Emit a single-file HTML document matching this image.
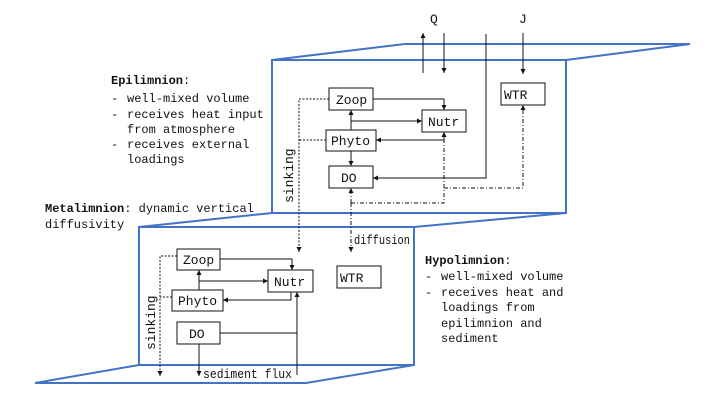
<!DOCTYPE html>
<html><head><meta charset="utf-8"><style>
html,body{margin:0;padding:0;background:#fff;}
svg{display:block;}
text{font-family:"Liberation Mono",monospace;font-size:12px;fill:#111;}
.b{font-weight:bold;}
.n{font-size:13px;}
</style></head><body>
<svg width="720" height="405" viewBox="0 0 720 405" xmlns="http://www.w3.org/2000/svg">
<defs>
<marker id="a" viewBox="0 0 6 6" refX="6" refY="3" markerWidth="5" markerHeight="5" orient="auto"><path d="M0,0L6,3L0,6z" fill="#111"/></marker>
</defs>
<g fill="none" stroke="#4472c4" stroke-width="2">
<rect x="272" y="60" width="294" height="153"/>
<path d="M272,60L405,44L690,44M566,60L690,44"/>
<path d="M139,227L272,213M414,227L566,213"/>
<rect x="139" y="227" width="275" height="138"/>
<path d="M139,365L35,383L306,383L414,365"/>
</g>
<g fill="#fff" stroke="#111" stroke-width="1">
<rect x="329" y="88" width="44" height="22"/>
<rect x="422" y="110" width="44" height="22"/>
<rect x="326" y="130" width="50" height="21"/>
<rect x="329" y="166" width="44" height="22"/>
<rect x="501" y="83" width="44" height="22"/>
<rect x="177" y="249" width="43" height="21"/>
<rect x="268" y="270" width="45" height="22"/>
<rect x="172" y="290" width="51" height="21"/>
<rect x="177" y="322" width="43" height="22"/>
<rect x="337" y="266" width="44" height="22"/>
</g>
<g fill="none" stroke="#111" stroke-width="1" marker-end="url(#a)">
<path d="M423,73V33"/>
<path d="M444,33V73"/>
<path d="M486,34V178H373"/>
<path d="M523,33V74"/>
<path d="M373,99H444V110"/>
<path d="M351,130V110"/>
<path d="M351,121H422"/>
<path d="M444,132V140H376"/>
<path d="M351,151V166"/>
<path d="M220,259H292V270"/>
<path d="M199,290V270"/>
<path d="M199,281H268"/>
<path d="M291,292V300H223"/>
<path d="M297,375V292"/>
<path d="M199,344V376"/>
</g>
<path d="M220,333H297" stroke="#111" fill="none"/>
<g fill="none" stroke="#111" stroke-width="1" stroke-dasharray="4,2,1,2">
<path d="M351,203V188" marker-end="url(#a)"/>
<path d="M351,203H444V132" marker-end="url(#a)"/>
<path d="M444,188H523V105" marker-end="url(#a)"/>
<path d="M351,203V252" marker-end="url(#a)"/>
</g>
<g fill="none" stroke="#111" stroke-width="1" stroke-dasharray="2,1.5">
<path d="M329,99H299V252" marker-end="url(#a)"/>
<path d="M326,140H299"/>
<path d="M177,256H160V376" marker-end="url(#a)"/>
<path d="M172,297H160"/>
</g>
<text class="n" x="336" y="104">Zoop</text>
<text class="n" x="428" y="126">Nutr</text>
<text class="n" x="331" y="145">Phyto</text>
<text class="n" x="341" y="182">DO</text>
<text class="n" x="504" y="99">WTR</text>
<text class="n" x="183" y="264">Zoop</text>
<text class="n" x="274" y="286">Nutr</text>
<text class="n" x="178" y="305">Phyto</text>
<text class="n" x="189" y="338">DO</text>
<text class="n" x="340" y="282">WTR</text>
<text class="n" x="430" y="23">Q</text>
<text class="n" x="519" y="23">J</text>
<text class="n" x="354" y="244" textLength="56" lengthAdjust="spacingAndGlyphs">diffusion</text>
<text class="n" x="203" y="378" textLength="89" lengthAdjust="spacingAndGlyphs">sediment flux</text>
<text class="n" transform="translate(293,203) rotate(-90)">sinking</text>
<text class="n" transform="translate(155,350) rotate(-90)">sinking</text>
<text x="111" y="84"><tspan class="b">Epilimnion</tspan>:</text>
<text x="111" y="102">-</text><text x="127" y="102">well-mixed volume</text>
<text x="111" y="118">-</text><text x="127" y="118">receives heat input</text>
<text x="127" y="133">from atmosphere</text>
<text x="111" y="148">-</text><text x="127" y="148">receives external</text>
<text x="127" y="163">loadings</text>
<text x="45" y="212"><tspan class="b">Metalimnion</tspan>: dynamic vertical</text>
<text x="45" y="228">diffusivity</text>
<text x="425" y="264"><tspan class="b">Hypolimnion</tspan>:</text>
<text x="425" y="280">-</text><text x="441" y="280">well-mixed volume</text>
<text x="425" y="296">-</text><text x="441" y="296">receives heat and</text>
<text x="441" y="311">loadings from</text>
<text x="441" y="327">epilimnion and</text>
<text x="441" y="342">sediment</text>
</svg>
</body></html>
